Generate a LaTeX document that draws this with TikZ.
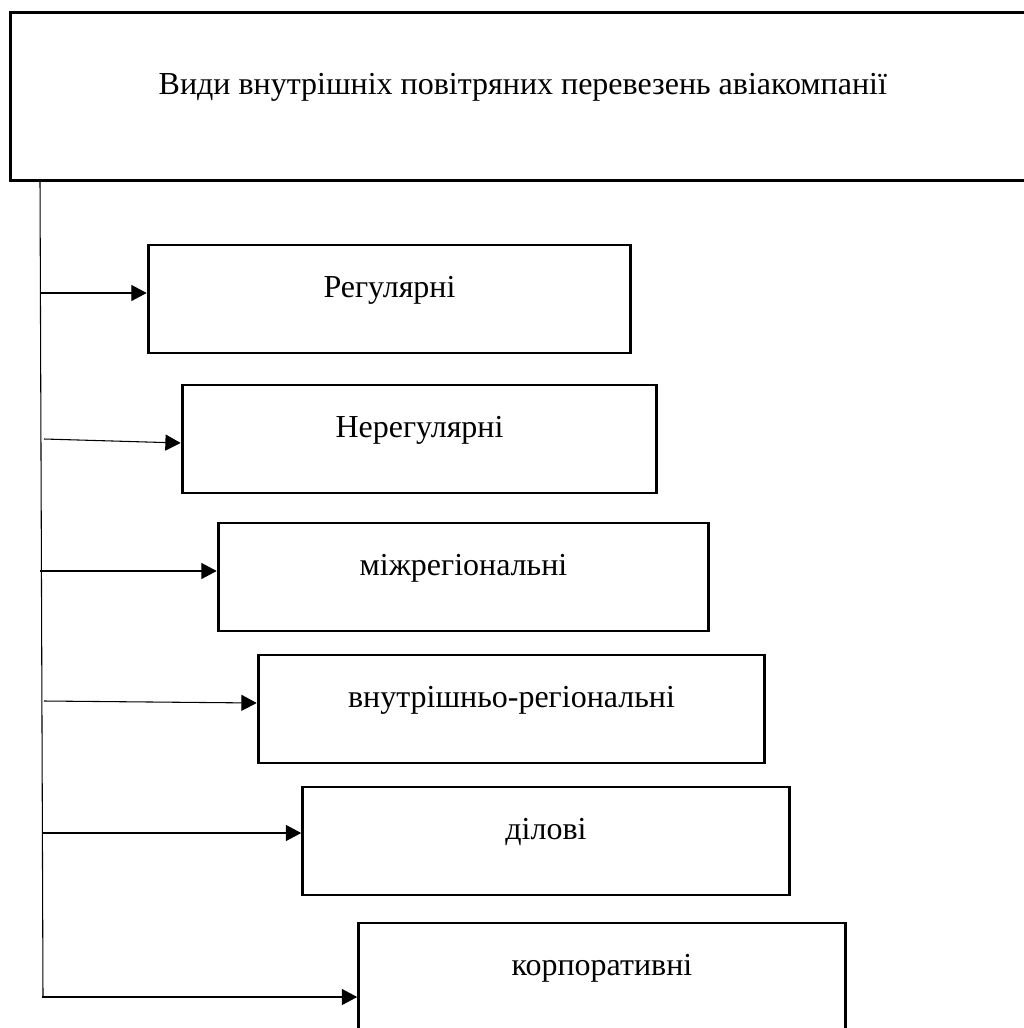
\documentclass[tikz,border=0pt]{standalone}
\usepackage{fontspec}
\setmainfont{Liberation Serif}
\usetikzlibrary{arrows, arrows.meta}
\usetikzlibrary{calc}

\tikzset{
  kind/.style={rectangle, draw, line width=2.2pt, inner sep=0pt,
    minimum height=81pt, text height=13pt, text depth=16pt,
    font=\fontsize{24}{28}\selectfont},
  branch/.style={line width=0.8pt, -{Triangle[length=11.5pt, width=12pt]}},
  trunk/.style={line width=0.8pt}
}

\begin{document}
\begin{tikzpicture}[x=0.75pt, y=-0.75pt]
      \useasboundingbox (0,0) rectangle (1024,1028);

      \node[kind, line width=2.5pt, anchor=north west, minimum height=126pt, text width=560pt, align=flush left, inner xsep=111pt] (0) at (9,11) {Види внутрішніх повітряних перевезень авіакомпанії};

      \node[kind, minimum width=362pt] (1) at (389.5,299) {Регулярні};
      \node[kind, minimum width=356pt] (2) at (419.5,439) {Нерегулярні};
      \node[kind, minimum width=368pt] (3) at (463.5,577) {міжрегіональні};
      \node[kind, minimum width=380pt] (4) at (511.5,709) {внутрішньо-регіональні};
      \node[kind, minimum width=365pt] (5) at (546,841) {ділові};
      \node[kind, minimum width=365pt] (6) at (602,977) {корпоративні};

      \coordinate (t0) at (40,179);
      \coordinate (t6) at (43,997);
      \coordinate (s1) at (40,293);
      \coordinate (s2) at (44,439);
      \coordinate (s3) at (40,571);
      \coordinate (s4) at (44,701);
      \coordinate (s5) at (43,833);
      \coordinate (s6) at (42,997);

      \draw[trunk] (t0) -- (t6);

      \draw[branch] (s1) -- (s1 -| 1.west);
      \draw[branch] (s2) -- ([yshift=-3pt]2.west);
      \draw[branch] (s3) -- (s3 -| 3.west);
      \draw[branch] (s4) -- ([yshift=4.5pt]4.west);
      \draw[branch] (s5) -- (s5 -| 5.west);
      \draw[branch] (s6) -- (s6 -| 6.west);
    \end{tikzpicture}
\end{document}
